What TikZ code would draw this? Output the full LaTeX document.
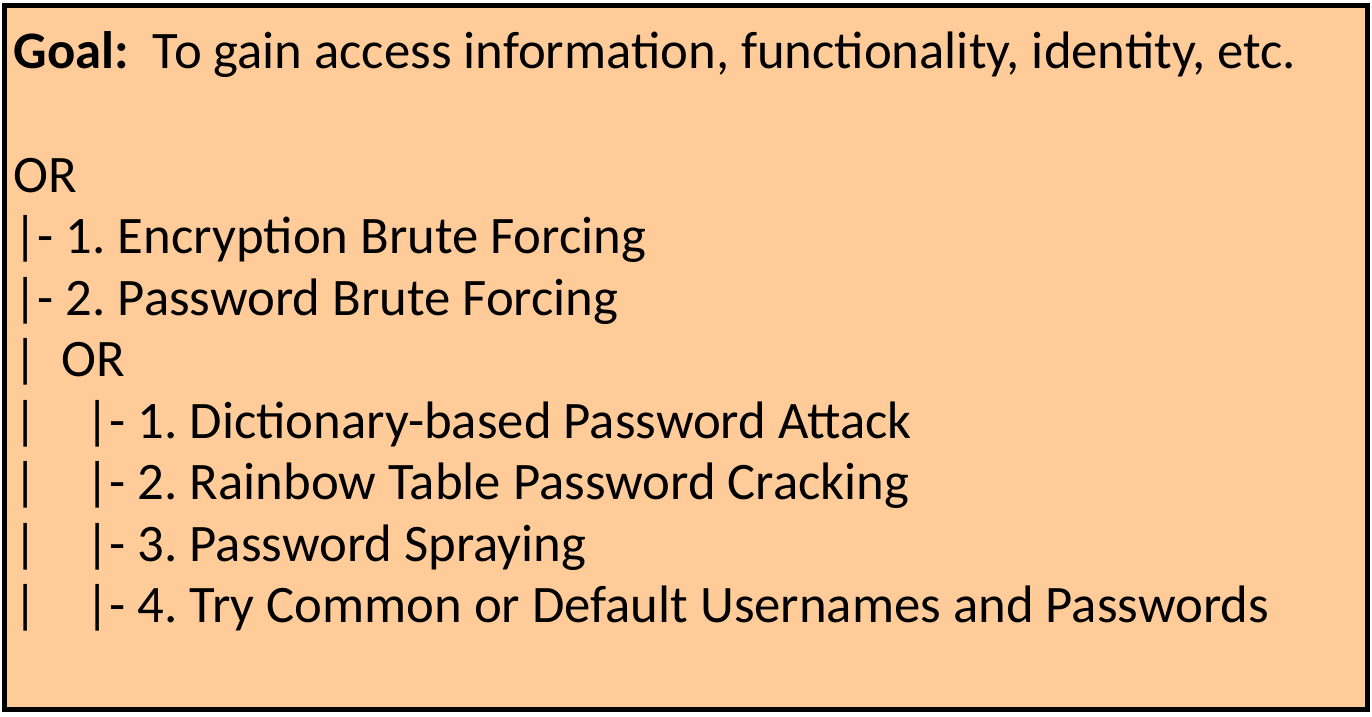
\documentclass[tikz,border=0pt]{standalone}
\usepackage{fontspec}
\setmainfont{Carlito}
\usetikzlibrary{positioning}
\definecolor{peach}{HTML}{FFCC99}
\definecolor{ink}{HTML}{000000}
\frenchspacing

\begin{document}
\begin{tikzpicture}[line/.style={font=\fontsize{15}{18}\selectfont,color=ink,anchor=base west,inner sep=0pt}]
        \useasboundingbox (0,0) rectangle (13.72,-7.16);
        % frame
        \draw[line width=0.05cm,ink,fill=peach] (0.045,-0.055) rectangle (13.675,-7.09);
        % goal
        \node[line] (goal) at (0.13,-0.69) {\textbf{Goal:}\ \ To gain access information, functionality, identity, etc.};
        % tree
        \foreach \txt [count=\i from 0] in {
          {OR},
          {|- 1. Encryption Brute Forcing},
          {|- 2. Password Brute Forcing},
          {|\ \ OR},
          {|\ \ \ \ |- 1. Dictionary-based Password Attack},
          {|\ \ \ \ |- 2. Rainbow Table Password Cracking},
          {|\ \ \ \ |- 3. Password Spraying},
          {|\ \ \ \ |- 4. Try Common or Default Usernames and Passwords}}{
          \node[line] (l\i) at (0.13,-1.92-\i*0.615) {\txt};}
      \end{tikzpicture}
\end{document}
